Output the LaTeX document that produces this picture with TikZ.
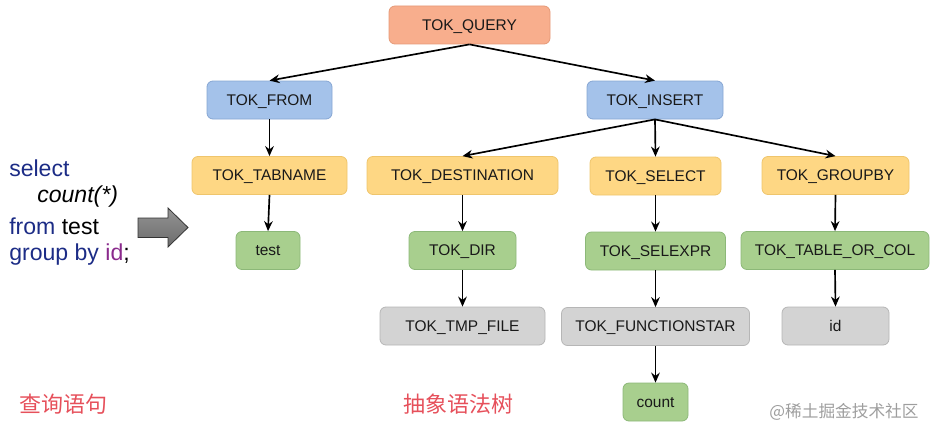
\documentclass[tikz,border=0pt]{standalone}
\usepackage{fontspec}
\setmainfont{Liberation Sans}
\newfontfamily\cjk{Noto Sans CJK SC}
\usetikzlibrary{arrows.meta}
\definecolor{qfill}{HTML}{F8AE8D}
\definecolor{qdraw}{HTML}{E59A78}
\definecolor{bfill}{HTML}{A4C2EA}
\definecolor{bdraw}{HTML}{86A6D3}
\definecolor{yfill}{HTML}{FED784}
\definecolor{ydraw}{HTML}{EFC56C}
\definecolor{gfill}{HTML}{A8CF8E}
\definecolor{gdraw}{HTML}{8CB878}
\definecolor{hfill}{HTML}{D3D3D3}
\definecolor{hdraw}{HTML}{B6B6B6}
\definecolor{sqlblue}{HTML}{1C2C86}
\definecolor{sqlpurple}{HTML}{8A2A8C}
\definecolor{cnred}{HTML}{E6505B}
\tikzset{
  box/.style={rounded corners=4.5pt, inner sep=0pt, minimum height=28.5pt,
    text height=8.2pt, text depth=0pt,
    font=\fontsize{11.6}{13}\selectfont, text=black!90, line width=0.6pt},
  qbox/.style={box, fill=qfill, draw=qdraw},
  bbox/.style={box, fill=bfill, draw=bdraw},
  ybox/.style={box, fill=yfill, draw=ydraw},
  gbox/.style={box, fill=gfill, draw=gdraw},
  hbox/.style={box, fill=hfill, draw=hdraw},
  conn/.style={-{Stealth[length=7.5pt,width=6.5pt]}, line width=1.25pt, black},
  sql/.style={anchor=west, inner sep=0pt, font=\fontsize{17.3}{20}\selectfont},
  cnlabel/.style={inner sep=0pt, text=cnred, font=\cjk\fontsize{16.5}{18}\selectfont}
}
\begin{document}
\begin{tikzpicture}[x=0.75pt,y=-0.75pt]
\useasboundingbox (0,0) rectangle (930,428);
% nodes
\node[qbox, minimum width=120.75pt] (query) at (469.5,25) {TOK\_QUERY};
\node[bbox, minimum width=93.75pt] (from) at (269.5,100) {TOK\_FROM};
\node[bbox, minimum width=102pt] (insert) at (655,100) {TOK\_INSERT};
\node[ybox, minimum width=116.25pt] (tabname) at (269.5,175.5) {TOK\_TABNAME};
\node[ybox, minimum width=143.25pt] (dest) at (462.5,175.5) {TOK\_DESTINATION};
\node[ybox, minimum width=98.25pt] (select) at (655.5,176) {TOK\_SELECT};
\node[ybox, minimum width=110.25pt] (groupby) at (835.5,175.5) {TOK\_GROUPBY};
\node[gbox, minimum width=48pt] (test) at (268,250.5) {test};
\node[gbox, minimum width=80.25pt] (dir) at (462.5,250.5) {TOK\_DIR};
\node[gbox, minimum width=105pt] (selexpr) at (655.5,251) {TOK\_SELEXPR};
\node[gbox, minimum width=141pt] (tabcol) at (835,250.5) {TOK\_TABLE\_OR\_COL};
\node[hbox, minimum width=123.75pt] (tmpfile) at (462.5,326) {TOK\_TMP\_FILE};
\node[hbox, minimum width=141pt] (funcstar) at (655.5,326.5) {TOK\_FUNCTIONSTAR};
\node[hbox, minimum width=80.25pt] (id) at (835.5,326) {id};
\node[gbox, minimum width=48.75pt] (count) at (655.5,402) {count};
% connectors
\draw[conn] (query.south) -- (from.north);
\draw[conn] (query.south) -- (insert.north);
\draw[conn] (from.south) -- (tabname.north);
\draw[conn] (insert.south) -- (dest.north);
\draw[conn] (insert.south) -- (select.north);
\draw[conn] (insert.south) -- (groupby.north);
\draw[conn] (tabname.south) -- (test.north);
\draw[conn] (dest.south) -- (dir.north);
\draw[conn] (select.south) -- (selexpr.north);
\draw[conn] (groupby.south) -- (tabcol.north);
\draw[conn] (dir.south) -- (tmpfile.north);
\draw[conn] (selexpr.south) -- (funcstar.north);
\draw[conn] (tabcol.south) -- (id.north);
\draw[conn] (funcstar.south) -- (count.north);
% SQL text
\node[sql, text=sqlblue] (l1) at (9,168) {select};
\node[sql] (l2) at (37,197) {\textit{count(*)}};
\node[sql] (l3) at (9,226) {\textcolor{sqlblue}{from} test};
\node[sql] (l4) at (9,255) {\textcolor{sqlblue}{group by} \textcolor{sqlpurple}{id};};
% block arrow
\draw[line width=0.6pt, draw=black!80, top color=black!42, bottom color=black!58]
  (138,218) -- (168,218) -- (168,208) -- (188,227.5) -- (168,247) -- (168,237.5) -- (138,237.5) -- cycle;
% labels
\node[cnlabel] (lq) at (63,404) {查询语句};
\node[cnlabel] (la) at (458,404) {抽象语法树};
\node[inner sep=0pt, text=black!38, font=\cjk\fontsize{12.5}{14}\selectfont] (wm) at (844,412) {@稀土掘金技术社区};
\end{tikzpicture}
\end{document}
